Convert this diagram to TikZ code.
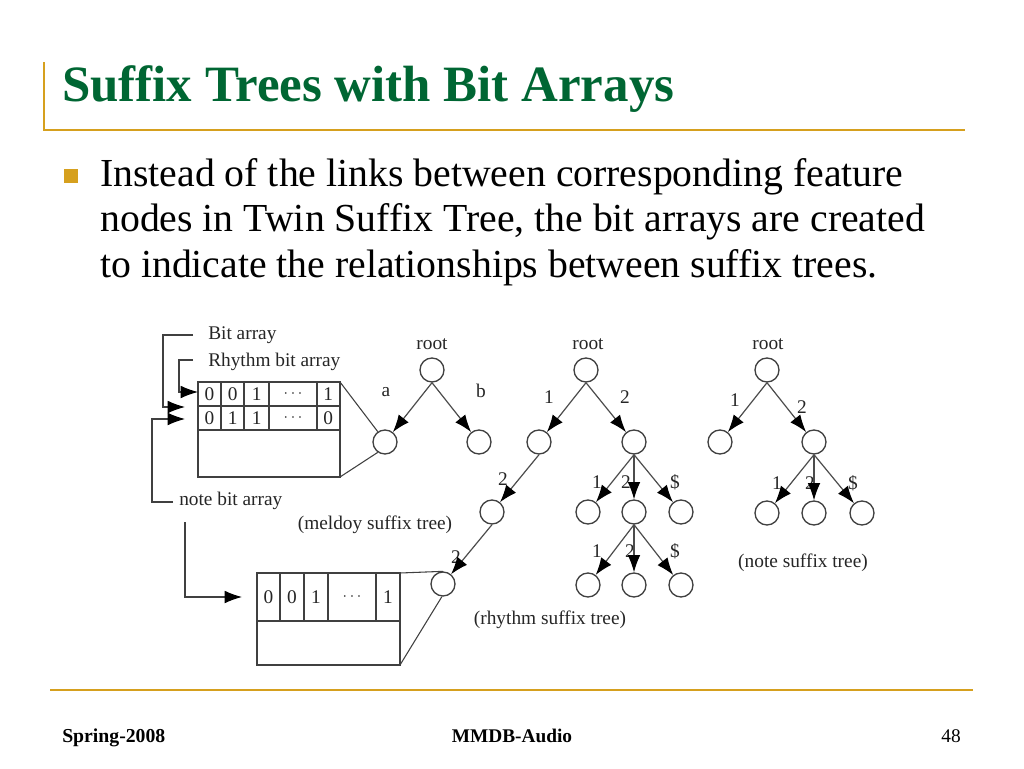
\documentclass[tikz,border=0pt]{standalone}
\usepackage{fontspec}
\setmainfont{Liberation Serif}
\usetikzlibrary{arrows.meta}
\definecolor{titlegreen}{RGB}{0,102,51}
\definecolor{gold}{RGB}{214,160,30}
\begin{document}
\begin{tikzpicture}[x=0.75pt,y=-0.75pt,
 tn/.style={circle,draw=black!75,line width=1pt,minimum size=18pt,inner sep=0pt},
 edge/.style={draw=black!70,line width=0.9pt,-{Latex[length=13pt,width=9.5pt,color=black]}},
 conn/.style={draw=black!75,line width=0.8pt},
 carrow/.style={conn,-{Latex[length=13pt,width=9.5pt,color=black]}},
 lbl/.style={font=\fontsize{14.5}{16}\selectfont,text=black!85,inner sep=0pt},
 dots/.style={font=\fontsize{12}{14}\selectfont,text=black!85,inner sep=0pt},
 cell/.style={draw=black!75,line width=0.9pt},
 body/.style={font=\fontsize{29.8}{34}\selectfont,anchor=base west,inner sep=0pt},
 foot/.style={font=\fontsize{14.5}{16}\selectfont,inner sep=0pt},
 rule/.style={draw=gold,line width=1.6pt},
]
\fill[white] (0,0) rectangle (1024,768);
\useasboundingbox (0,0) rectangle (1024,768);
% header
\draw[rule] (44,62) -- (44,130) -- (965,130);
\node[font=\fontsize{38.2}{42}\selectfont\bfseries,text=titlegreen,anchor=base west,inner sep=0pt] (title) at (62,101) {Suffix Trees with Bit Arrays};
\fill[gold] (64,169) rectangle (78,183);
\node[body] (l1) at (100,186) {Instead of the links between corresponding feature};
\node[body] (l2) at (100,231.5) {nodes in Twin Suffix Tree, the bit arrays are created};
\node[body] (l3) at (100,277) {to indicate the relationships between suffix trees.};
% footer
\draw[rule] (50,690) -- (973,690);
\node[foot,font=\fontsize{14.8}{16}\selectfont\bfseries,anchor=base west] (f1) at (62,742) {Spring-2008};
\node[foot,font=\fontsize{14.5}{16}\selectfont\bfseries,anchor=base] (f2) at (512,742) {MMDB-Audio};
\node[foot,anchor=base east] (f3) at (961,742) {48};

% top bit array box
\draw[cell] (198,382) rectangle (340,477);
\draw[cell] (198,406) -- (340,406);
\draw[cell] (198,430) -- (340,430);
\foreach \x in {221,244,269,317} \draw[cell] (\x,382) -- (\x,430);
\node[lbl] (a11) at (209.5,394) {0};
\node[lbl] (a12) at (232.7,394) {0};
\node[lbl] (a13) at (256.8,394) {1};
\node[dots] (a14) at (293,394) {$\cdots$};
\node[lbl] (a15) at (328.3,394) {1};
\node[lbl] (a21) at (209.5,418) {0};
\node[lbl] (a22) at (232.7,418) {1};
\node[lbl] (a23) at (256.8,418) {1};
\node[dots] (a24) at (293,418) {$\cdots$};
\node[lbl] (a25) at (328.3,418) {0};

% bottom bit array box
\draw[cell] (257,573) rectangle (400,665);
\draw[cell] (257,621) -- (400,621);
\foreach \x in {280,304,328,376} \draw[cell] (\x,573) -- (\x,621);
\node[lbl] (b1) at (268.5,597) {0};
\node[lbl] (b2) at (292,597) {0};
\node[lbl] (b3) at (316,597) {1};
\node[dots] (b4) at (352,597) {$\cdots$};
\node[lbl] (b5) at (388,597) {1};

% labels with connectors
\node[lbl,anchor=west] (bitlbl) at (208,335) {Bit array};
\node[lbl,anchor=west] (rhylbl) at (208,362) {Rhythm bit array};
\node[lbl,anchor=west] (notelbl) at (179,501) {note bit array};
\coordinate (bitS) at (193,335);
\coordinate (bitT) at (185,407);
\coordinate (rhyS) at (193,360);
\coordinate (rhyT) at (198,392);
\coordinate (noteS) at (173,502);
\coordinate (noteT) at (185,419);
\coordinate (note2S) at (185,522);
\coordinate (note2T) at (242,597);
\draw[carrow] (bitS) -- (163,335) |- (bitT);
\draw[carrow] (rhyS) -- (179,360) |- (rhyT);
\draw[carrow] (noteS) -- (152,502) |- (noteT);
\draw[carrow] (note2S) |- (note2T);

% melody tree
\node[tn] (mroot) at (432,370) {};
\node[tn] (ma) at (385,442) {};
\node[tn] (mb) at (479,442) {};
\node[lbl] (mrootl) at (432,344) {root};
\node[lbl] (mal) at (386,392) {a};
\node[lbl] (mbl) at (481,391) {b};
\draw[edge] (mroot.south) -- (ma);
\draw[edge] (mroot.south) -- (mb);
\draw[conn] (340,382) -- (ma.125);
\draw[conn] (340,477) -- (ma.235);

% rhythm tree
\node[tn] (rroot) at (586,370) {};
\node[tn] (r1) at (539,442) {};
\node[tn] (r2) at (634,442) {};
\node[tn] (r12) at (492,512) {};
\node[tn] (r122) at (443,584) {};
\node[tn] (r21) at (588,512) {};
\node[tn] (r22) at (634,512) {};
\node[tn] (r2s) at (681,512) {};
\node[tn] (r221) at (588,585) {};
\node[tn] (r222) at (634,585) {};
\node[tn] (r22s) at (681,585) {};
\node[lbl] (rrootl) at (588,344) {root};
\node[lbl] (r1l) at (549,397) {1};
\node[lbl] (r2l) at (625,397) {2};
\node[lbl] (r12l) at (503,479) {2};
\node[lbl] (r122l) at (456,557) {2};
\node[lbl] (r21l) at (597,482) {1};
\node[lbl] (r22l) at (626,482) {2};
\node[lbl] (r2sl) at (675,482) {\$};
\node[lbl] (r221l) at (597,551) {1};
\node[lbl] (r222l) at (630,551) {2};
\node[lbl] (r22sl) at (675,551) {\$};
\draw[edge] (rroot.south) -- (r1);
\draw[edge] (rroot.south) -- (r2);
\draw[edge] (r1.south) -- (r12);
\draw[edge] (r12.south) -- (r122);
\draw[edge] (r2.south) -- (r21);
\draw[edge] (r2.south) -- (r22);
\draw[edge] (r2.south) -- (r2s);
\draw[edge] (r22.south) -- (r221);
\draw[edge] (r22.south) -- (r222);
\draw[edge] (r22.south) -- (r22s);
\draw[conn] (400,573) -- (r122.north);
\draw[conn] (400,665) -- (r122.265);
\node[lbl] (meltitle) at (375,525) {(meldoy suffix tree)};
\node[lbl] (rhytitle) at (550,620) {(rhythm suffix tree)};

% note tree
\node[tn] (nroot) at (767,370) {};
\node[tn] (n1) at (720,442) {};
\node[tn] (n2) at (814,442) {};
\node[tn] (n21) at (767,513) {};
\node[tn] (n22) at (814,513) {};
\node[tn] (n2s) at (862,513) {};
\node[lbl] (nrootl) at (768,344) {root};
\node[lbl] (n1l) at (735,400) {1};
\node[lbl] (n2l) at (802,407) {2};
\node[lbl] (n21l) at (777,483) {1};
\node[lbl] (n22l) at (810,483) {2};
\node[lbl] (n2sl) at (853,483) {\$};
\draw[edge] (nroot.south) -- (n1);
\draw[edge] (nroot.south) -- (n2);
\draw[edge] (n2.south) -- (n21);
\draw[edge] (n2.south) -- (n22);
\draw[edge] (n2.south) -- (n2s);
\node[lbl] (notetitle) at (803,563) {(note suffix tree)};
\end{tikzpicture}
\end{document}
